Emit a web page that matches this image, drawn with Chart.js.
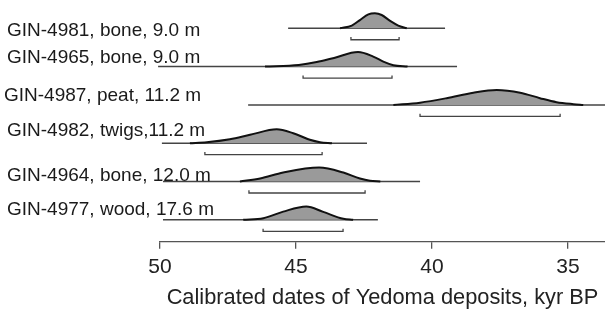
<!DOCTYPE html>
<html>
<head>
<meta charset="utf-8">
<script src="https://cdn.jsdelivr.net/npm/chart.js@4/dist/chart.umd.min.js"></script>
<style>
  html, body { margin: 0; padding: 0; background: #fff; }
  canvas { display: block; }
</style>
</head>
<body>
<canvas id="dates-chart" width="605" height="310"></canvas>
<script>
// Sample labels, top to bottom
const samples = [
    'GIN-4981, bone, 9.0 m',
    'GIN-4965, bone, 9.0 m',
    'GIN-4987, peat, 11.2 m',
    'GIN-4982, twigs,11.2 m',
    'GIN-4964, bone, 12.0 m',
    'GIN-4977, wood, 17.6 m'
];

// Extent of each calibration line, kyr BP
const spanFrom = [45.29, 50.07, 46.76, 49.93, 49.89, 49.89];
const spanTo = [39.52, 39.08, 33.64, 42.39, 40.44, 41.99];

// 2-sigma ranges (brackets under each curve), kyr BP
const rangeFrom = [42.98, 44.74, 40.44, 48.35, 46.73, 46.21];
const rangeTo = [41.21, 41.47, 35.29, 44.04, 42.46, 43.27];

// Probability curves (age in kyr BP, relative density)
const age4981 = [43.38, 42.95, 42.65, 42.34, 42.10, 41.85, 41.54, 41.24, 40.93];
const dens4981 = [0, 0.18, 0.55, 0.93, 1.0, 0.89, 0.49, 0.18, 0];
const age4965 = [46.14, 44.90, 44.24, 43.60, 42.72, 42.16, 41.79, 41.42, 40.90];
const dens4965 = [0, 0.11, 0.30, 0.58, 0.97, 0.67, 0.33, 0.09, 0];
const age4987 = [41.42, 40.44, 39.46, 38.48, 37.62, 36.76, 36.03, 35.42, 34.80, 34.44];
const dens4987 = [0, 0.15, 0.45, 0.82, 1.0, 0.82, 0.45, 0.18, 0.05, 0];
const age4982 = [48.90, 48.28, 47.43, 46.69, 45.71, 45.10, 44.49, 44.12, 43.68];
const dens4982 = [0, 0.07, 0.27, 0.56, 0.93, 0.67, 0.23, 0.07, 0];
const age4964 = [47.06, 46.32, 45.47, 44.15, 43.26, 42.65, 42.28, 41.90];
const dens4964 = [0, 0.20, 0.60, 0.93, 0.60, 0.20, 0.05, 0];
const age4977 = [46.94, 46.20, 45.47, 44.62, 44.00, 43.26, 42.90];
const dens4977 = [0, 0.11, 0.55, 0.89, 0.53, 0.07, 0];

const curveAges = [age4981, age4965, age4987, age4982, age4964, age4977];
const curveDens = [dens4981, dens4965, dens4987, dens4982, dens4964, dens4977];

// Axis ticks
const tickVals = [50, 45, 40, 35];

// style bits
const peakHeight = 0.39;   // row units for density 1.0
const bracketDrop = 0.3;
const bracketTick = 0.07;
const labelDy = [7.5, -3.5, -4, -7, -1, -5];
const labelX = [7, 7, 4, 7, 7, 7];
const fontFamily = '"Liberation Sans", Arial, Helvetica, sans-serif';

const datasets = [];

samples.forEach((name, i) => {
    // density curve
    datasets.push({
        data: curveAges[i].map((a, k) => ({ x: a, y: i - curveDens[i][k] * peakHeight })),
        borderColor: '#111',
        borderWidth: 2,
        backgroundColor: '#9a9a9a',
        fill: { value: i },
        pointRadius: 0,
        cubicInterpolationMode: 'monotone',
        order: 1,
        clip: false
    });
    // bracket
    const by = i + bracketDrop;
    datasets.push({
        data: [
            { x: rangeFrom[i], y: by - bracketTick },
            { x: rangeFrom[i], y: by },
            { x: rangeTo[i], y: by },
            { x: rangeTo[i], y: by - bracketTick }
        ],
        borderColor: '#444',
        borderWidth: 1.3,
        pointRadius: 0,
        fill: false,
        order: 2,
        clip: false
    });
    // baseline
    datasets.push({
        data: [{ x: spanFrom[i], y: i }, { x: spanTo[i], y: i }],
        borderColor: '#444',
        borderWidth: 1.5,
        pointRadius: 0,
        fill: false,
        order: 3,
        clip: false
    });
});

const sampleLabels = {
    id: 'sampleLabels',
    afterDraw(chart) {
        const ctx = chart.ctx;
        const yScale = chart.scales.y;
        ctx.save();
        ctx.fillStyle = '#1a1a1a';
        ctx.font = '19px ' + fontFamily;
        ctx.textBaseline = 'alphabetic';
        ctx.textAlign = 'left';
        samples.forEach((name, i) => {
            ctx.fillText(name, labelX[i], yScale.getPixelForValue(i) + labelDy[i]);
        });
        ctx.restore();
    }
};

const ctx = document.getElementById('dates-chart').getContext('2d');
const datesChart = new Chart(ctx, {
    type: 'line',
    data: { datasets: datasets },
    options: {
        responsive: false,
        animation: false,
        devicePixelRatio: 1,
        layout: { padding: { left: 160, right: 0, top: 0, bottom: 0 } },
        plugins: {
            legend: { display: false },
            tooltip: { enabled: false }
        },
        scales: {
            x: {
                type: 'linear',
                reverse: true,
                min: 33.64,
                max: 50,
                afterBuildTicks: scale => {
                    scale.ticks = tickVals.map(v => ({ value: v }));
                },
                border: { display: true, color: '#555', width: 1.3 },
                grid: {
                    drawOnChartArea: false,
                    drawTicks: true,
                    tickLength: 7,
                    color: '#555',
                    lineWidth: 1.3
                },
                ticks: {
                    padding: 6,
                    color: '#222',
                    font: { family: fontFamily, size: 21, lineHeight: 1.2 },
                    maxRotation: 0
                },
                title: {
                    display: true,
                    text: 'Calibrated dates of Yedoma deposits, kyr BP',
                    color: '#222',
                    font: { family: fontFamily, size: 21.8, lineHeight: 1.1 },
                    padding: { top: 0, bottom: 0 }
                }
            },
            y: {
                type: 'linear',
                display: false,
                reverse: true,
                min: -0.738,
                max: 5.574
            }
        }
    },
    plugins: [sampleLabels]
});
</script>
</body>
</html>
